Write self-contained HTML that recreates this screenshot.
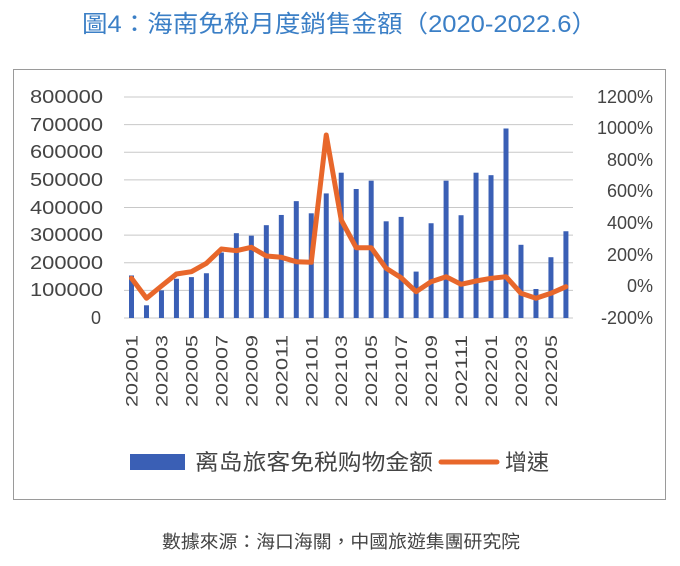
<!DOCTYPE html>
<html><head><meta charset="utf-8"><style>
body{margin:0;background:#fff;width:680px;height:561px;overflow:hidden}
svg text{font-family:"Liberation Sans","Noto Sans CJK TC",sans-serif}
</style></head><body>
<svg width="680" height="561" viewBox="0 0 680 561" xmlns="http://www.w3.org/2000/svg">
<text x="82" y="32" font-size="24" fill="#3b7fc6" textLength="515" lengthAdjust="spacingAndGlyphs">圖4：海南免稅月度銷售金額（2020-2022.6）</text>
<rect x="13.5" y="69.5" width="652" height="430" fill="#fff" stroke="#9a9a9a" stroke-width="1"/>
<g stroke="#c8c8c8" stroke-width="1">
<line x1="124" x2="573" y1="97" y2="97"/><line x1="124" x2="573" y1="124.6" y2="124.6"/><line x1="124" x2="573" y1="152.3" y2="152.3"/><line x1="124" x2="573" y1="179.9" y2="179.9"/><line x1="124" x2="573" y1="207.5" y2="207.5"/><line x1="124" x2="573" y1="235.1" y2="235.1"/><line x1="124" x2="573" y1="262.8" y2="262.8"/><line x1="124" x2="573" y1="290.4" y2="290.4"/><line x1="124" x2="573" y1="318" y2="318"/>
</g>
<g font-size="18" fill="#444">
<text x="30" y="103" textLength="73" lengthAdjust="spacingAndGlyphs">800000</text><text x="30" y="131" textLength="73" lengthAdjust="spacingAndGlyphs">700000</text><text x="30" y="158" textLength="73" lengthAdjust="spacingAndGlyphs">600000</text><text x="30" y="186" textLength="73" lengthAdjust="spacingAndGlyphs">500000</text><text x="30" y="214" textLength="73" lengthAdjust="spacingAndGlyphs">400000</text><text x="30" y="241" textLength="73" lengthAdjust="spacingAndGlyphs">300000</text><text x="30" y="269" textLength="73" lengthAdjust="spacingAndGlyphs">200000</text><text x="30" y="296" textLength="73" lengthAdjust="spacingAndGlyphs">100000</text><text x="91" y="324">0</text>
</g>
<g font-size="18" fill="#444" text-anchor="end">
<text x="653" y="103">1200%</text><text x="653" y="134">1000%</text><text x="653" y="166">800%</text><text x="653" y="197">600%</text><text x="653" y="229">400%</text><text x="653" y="261">200%</text><text x="653" y="292">0%</text><text x="653" y="324">-200%</text>
</g>
<g fill="#3a5fb5" id="bars"></g>
<polyline id="ln" fill="none" stroke="#e8672b" stroke-width="5" stroke-linejoin="round" stroke-linecap="round" points=""/>
<g id="xl" font-size="17" fill="#444"></g>
<rect x="130" y="454" width="55" height="16" fill="#3a5fb5"/>
<text x="195" y="470" font-size="22" fill="#444" textLength="238" lengthAdjust="spacingAndGlyphs">离岛旅客免税购物金额</text>
<line x1="441" x2="497" y1="462" y2="462" stroke="#e8672b" stroke-width="5" stroke-linecap="round"/>
<text x="505" y="470" font-size="22" fill="#444">增速</text>
<text x="162" y="548" font-size="18" fill="#444" textLength="358" lengthAdjust="spacingAndGlyphs">數據來源：海口海關，中國旅遊集團研究院</text>
</svg>
<script>
var v=[154,46,100,142,148,162,237,307,298,336,373,423,379,451,526,467,497,350,366,168,343,497,372,526,517,686,265,105,220,314];
var ly=[278.3,298.3,286,274,271.7,263.3,249,250.7,247.3,256,257.3,261.7,262.3,135,220,247.7,247.7,268.3,277.7,291.7,281.7,276.7,284.3,281,278.3,276.7,293.3,298.3,293.3,286.7];
var ns="http://www.w3.org/2000/svg",b=document.getElementById('bars'),xl=document.getElementById('xl'),pts=[];
for(var i=0;i<30;i++){var x=131.5+i*14.98;var h=v[i]*1000/800000*221;
var r=document.createElementNS(ns,'rect');r.setAttribute('x',x-2.5);r.setAttribute('y',318-h);r.setAttribute('width',5);r.setAttribute('height',h);b.appendChild(r);
pts.push(x+','+ly[i]);
if(i%2==0){var m=i+1,yr=2020+Math.floor((m-1)/12),mo=((m-1)%12)+1;var s=''+yr+(mo<10?'0':'')+mo;
var t=document.createElementNS(ns,'text');t.setAttribute('transform','translate('+(x+6)+',407) rotate(-90)');t.setAttribute('textLength','72');t.setAttribute('lengthAdjust','spacingAndGlyphs');t.textContent=s;xl.appendChild(t);}}
document.getElementById('ln').setAttribute('points',pts.join(' '));
</script>
</body></html>
